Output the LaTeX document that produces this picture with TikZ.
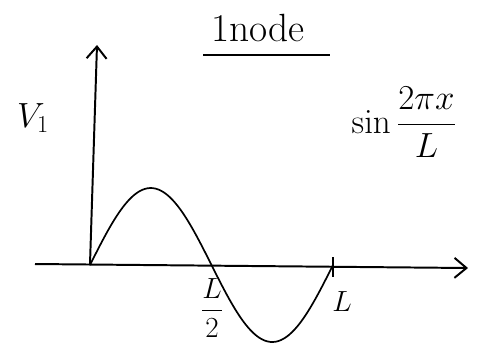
\documentclass[tikz,border=0pt]{standalone}
\usetikzlibrary{arrows.meta}
\begin{document}
\begin{tikzpicture}[x=0.025cm, y=-0.025cm, line width=1.4pt, >={Straight Barb[length=3mm, width=5mm]},
    every node/.style={inner sep=0pt}]
        \useasboundingbox (0,0) rectangle (477,345);

        % axes
        \coordinate (O) at (90,264);
        \coordinate (ytop) at (97,45);
        \coordinate (xleft) at (35,264);
        \coordinate (xright) at (468,268);
        \coordinate (Lhalf) at (212,266);
        \coordinate (Lend) at (333,267);

        \draw[->] (O) -- (ytop);
        \draw[->] (xleft) -- (xright);
        \draw ([yshift=-7]Lend) -- ([yshift=7]Lend);

        % the mode
        \draw[line width=1.2pt] plot[domain=0:360, samples=90, smooth]
            ({90+0.675*\x}, {265-77*sin(\x)});

        % labels
        \node (title) at (258,28) {\fontsize{28}{30}\selectfont 1node};
        \draw[line width=1.1pt] (203,55) -- (330,55);
        \node (V) at (33,118) {\fontsize{24}{26}\selectfont $V_1$};
        \node (f) at (404,122) {\fontsize{27}{29}\selectfont $\displaystyle\sin\frac{2\pi x}{L}$};
        \node (lab1) at (212,308) {\fontsize{21}{23}\selectfont $\displaystyle\frac{L}{2}$};
        \node (lab2) at (342,302) {\fontsize{21}{23}\selectfont $L$};
    \end{tikzpicture}
\end{document}
